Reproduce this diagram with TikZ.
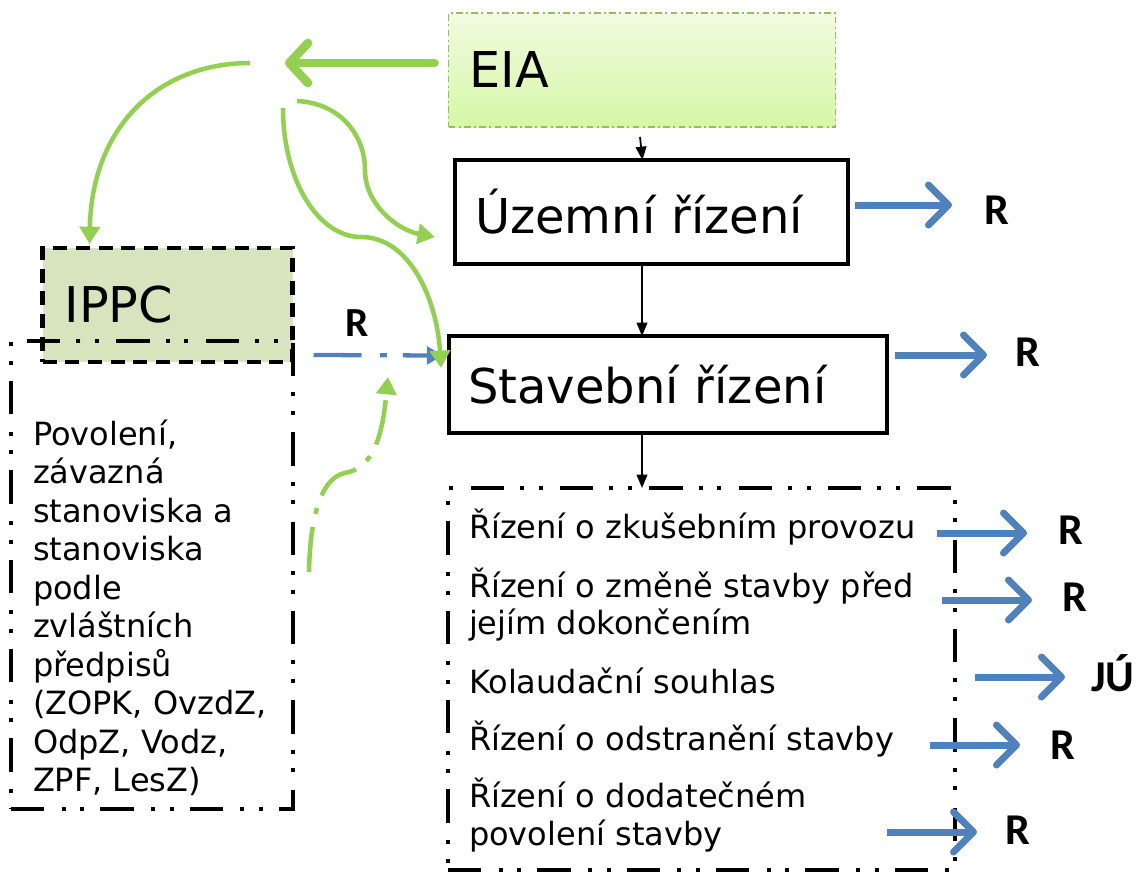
\documentclass[tikz,border=0pt]{standalone}
\usepackage{fontspec}
\setmainfont{DejaVu Sans}
\newfontfamily\rfont{Carlito}
\usetikzlibrary{arrows.meta}
\definecolor{grn}{HTML}{92D050}
\definecolor{blu}{HTML}{4F81BD}
\definecolor{ippcfill}{HTML}{D7E4BD}
\definecolor{eiab}{HTML}{9BBB59}
\definecolor{eiat}{HTML}{F1FBE1}
\definecolor{eiad}{HTML}{D6F7A6}
\begin{document}
\begin{tikzpicture}[x=0.75pt,y=-0.75pt,
  every node/.style={inner sep=0pt,outer sep=0pt},
  bigtxt/.style={font=\fontsize{36}{40}\selectfont},
  itemtxt/.style={font=\fontsize{24}{28}\selectfont, anchor=base west},
  rlab/.style={font=\rfont\fontsize{33}{35}\selectfont\bfseries, anchor=west},
  procbox/.style={draw=black, line width=3.4pt, rectangle, align=left, inner xsep=16pt},
  ddotline/.style={draw=black, line width=3.2pt, dash pattern=on 25pt off 13pt on 3pt off 11pt on 3pt off 12pt},
  bluearr/.style={draw=blu, line width=5.25pt, -{Straight Barb[length=15pt,width=30pt,round]}},
  grnthick/.style={draw=grn, line width=6.5pt, line cap=round, -{Straight Barb[length=14pt,width=30pt,round]}},
  grncurve/.style={draw=grn, line width=3.4pt, -{Triangle[length=13pt,width=15pt]}},
  blkarr/.style={draw=black, line width=1.3pt, -{Triangle[length=10pt,width=8pt]}}
]
\useasboundingbox (0,0) rectangle (1142,872);

% EIA box
\node[rectangle, draw=eiab, line width=1.2pt, dash pattern=on 5pt off 2.5pt on 1.5pt off 2.5pt,
      top color=eiat, bottom color=eiad, minimum width=0.75*387pt, minimum height=0.75*114pt,
      text width=0.75*345pt, align=left, inner xsep=0.75*21pt, font=\fontsize{37}{40}\selectfont]
      (eia) at (642,70) {EIA};

% Uzemni rizeni
\node[procbox, minimum width=0.75*393pt, minimum height=0.75*104pt, text width=0.75*353pt,
      inner xsep=0.75*20pt, bigtxt] (uz) at (651.5,212) {Územní řízení};

% Stavebni rizeni
\node[procbox, minimum width=0.75*438pt, minimum height=0.75*97pt, text width=0.75*400pt,
      inner xsep=0.75*19pt, bigtxt] (st) at (668,384.5) {\raisebox{-3.75pt}{Stavební řízení}};

% IPPC box
\node[rectangle, fill=ippcfill, draw=black, line width=3.2pt, dash pattern=on 10.5pt off 6.5pt,
      minimum width=0.75*250pt, minimum height=0.75*114pt, text width=0.75*206pt, align=left,
      inner xsep=0.75*22pt, font=\fontsize{37}{40}\selectfont] (ippc) at (167.5,305) {IPPC};

% outer left box
\node[rectangle, ddotline, minimum width=0.75*282pt, minimum height=0.75*468pt] (perm) at (152,575) {};
\node[itemtxt] (p1) at (33,445) {Povolení,};
\node[itemtxt] (p2) at (33,483.5) {závazná};
\node[itemtxt] (p3) at (33,522) {stanoviska a};
\node[itemtxt] (p4) at (33,560.5) {stanoviska};
\node[itemtxt] (p5) at (33,599) {podle};
\node[itemtxt] (p6) at (33,637.5) {zvláštních};
\node[itemtxt] (p7) at (33,676) {předpisů};
\node[itemtxt] (p8) at (33,714.5) {(ZOPK, OvzdZ,};
\node[itemtxt] (p9) at (33,753) {OdpZ, Vodz,};
\node[itemtxt] (p10) at (33,791.5) {ZPF, LesZ)};

% bottom right box
\node[rectangle, ddotline, minimum width=0.75*507pt, minimum height=0.75*382pt] (items) at (701.5,679) {};
\node[itemtxt] (i1) at (469,538) {Řízení o zkušebním provozu};
\node[itemtxt] (i2a) at (469,597) {Řízení o změně stavby před};
\node[itemtxt] (i2b) at (469,634) {jejím dokončením};
\node[itemtxt] (i3) at (469,693) {Kolaudační souhlas};
\node[itemtxt] (i4) at (469,750) {Řízení o odstranění stavby};
\node[itemtxt] (i5a) at (469,807) {Řízení o dodatečném};
\node[itemtxt] (i5b) at (469,845) {povolení stavby};

% R labels
\node[rlab] (rU) at (984,210) {R};
\node[rlab] (rS) at (1015,352) {R};
\node[rlab] (r1) at (1058,530) {R};
\node[rlab] (r2) at (1062,597) {R};
\node[rlab] (jU) at (1091,673) {JÚ};
\node[rlab] (r4) at (1050,745) {R};
\node[rlab] (r5) at (1005,830) {R};
\node[font=\rfont\fontsize{31}{33}\selectfont\bfseries] (rI) at (357,323) {R};

% black arrows
\draw[blkarr] ([shift={(-2,10)}]eia.south) -- ([shift={(-9,0)}]uz.north);
\draw[blkarr] (uz.south -| eia.south) -- (st.north -| eia.south);
\draw[blkarr] (st.south -| eia.south) -- (items.north -| eia.south);

% blue arrows
\draw[bluearr] ([shift={(7,-7)}]uz.east) -- ([shift={(-32,-5)}]rU.west);
\draw[bluearr] ([shift={(8,-29.5)}]st.east) -- ([shift={(-28,3)}]rS.west);
\draw[bluearr] ([shift={(-18,45)}]items.north east) -- ([shift={(-31,3)}]r1.west);
\draw[bluearr] ([shift={(-13,112)}]items.north east) -- ([shift={(-30,3)}]r2.west);
\draw[bluearr] ([shift={(20,189)}]items.north east) -- ([shift={(-26,4)}]jU.west);
\draw[bluearr] ([shift={(-25,257)}]items.north east) -- ([shift={(-30,0)}]r4.west);
\draw[bluearr] ([shift={(-68,344)}]items.north east) -- ([shift={(-28,2)}]r5.west);

% blue dash-dot from IPPC to Stavebni
\draw[draw=blu, line width=3.2pt, dash pattern=on 36pt off 14pt on 5pt off 12pt,
      -{Triangle[length=12pt,width=13pt]}]
      ([shift={(21,-7)}]ippc.south east) -- ([shift={(-6,-29)}]st.west);

% green arrows
\coordinate (hub) at (285,63);
\coordinate (g2s) at (250,63);
\coordinate (g3s) at (297,101);
\coordinate (g4s) at (283,108);
\coordinate (g5s) at (309,572);
\coordinate (g5e) at (388,377);
\draw[grnthick] ([shift={(-14,-7)}]eia.west) -- (hub);
\draw[grncurve] (g2s) .. controls (160,63) and (92,125) .. ([shift={(47,-4)}]ippc.north west);
\draw[grncurve] (g3s) .. controls (340,103) and (365,135) .. (365,170)
      .. controls (365,205) and (398,230) .. ([shift={(-20,25)}]uz.west);
\draw[grncurve] (g4s) .. controls (283,180) and (318,237) .. (361,237)
      .. controls (410,237) and (437,300) .. ([shift={(-8,32)}]st.north west);
\draw[draw=grn, line width=3.4pt, dash pattern=on 34pt off 10pt on 4.5pt off 10pt,
      -{Triangle[length=13pt,width=15pt]}]
      (g5s) .. controls (310,520) and (320,478) .. (345,473)
      .. controls (372,468) and (382,440) .. (g5e);
\end{tikzpicture}
\end{document}
